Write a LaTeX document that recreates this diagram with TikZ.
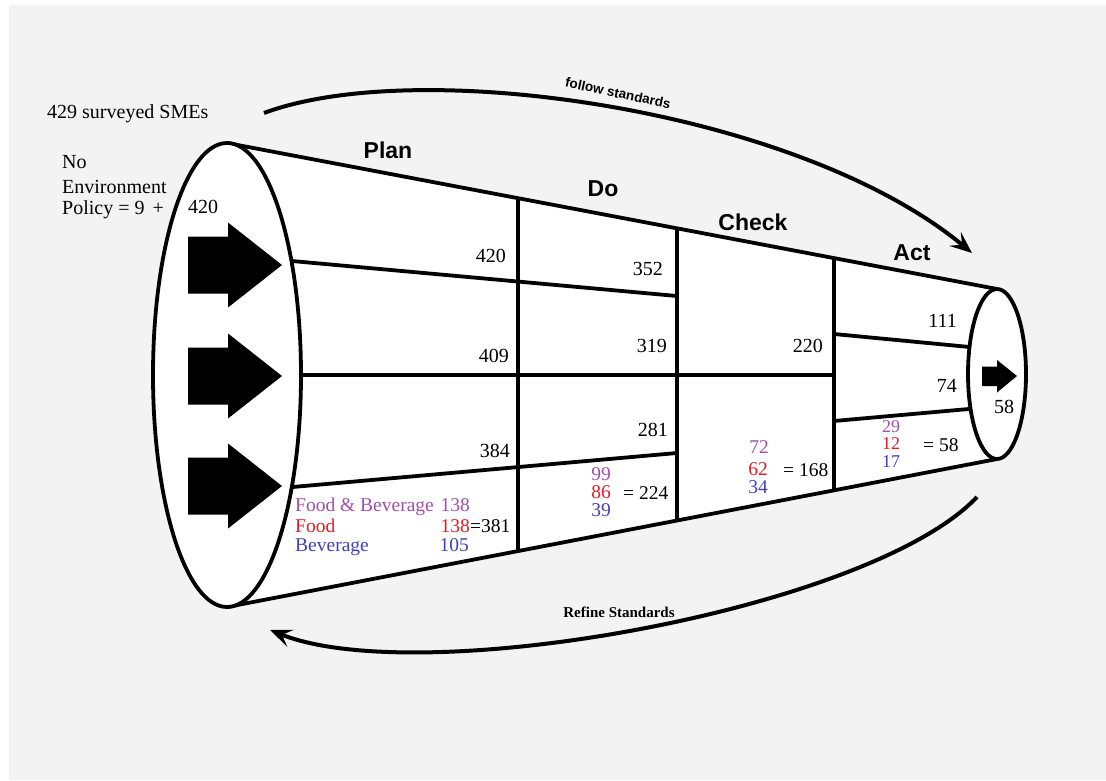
\documentclass[tikz,border=0pt]{standalone}
\usepackage{fontspec}
\setmainfont{Liberation Serif}
\newfontfamily\headfont{Liberation Sans}
\usetikzlibrary{arrows.meta,calc}

\definecolor{bggray}{RGB}{243,243,243}
\definecolor{fbpurple}{RGB}{160,80,175}
\definecolor{fred}{RGB}{225,30,40}
\definecolor{bblue}{RGB}{65,65,185}

\tikzset{
  outline/.style={line width=3.8pt, line join=round},
  num/.style={inner sep=0pt, font=\fontsize{20}{24}\selectfont},
  cellnum/.style={inner sep=0pt, font=\fontsize{19.5}{23}\selectfont},
  stacknum/.style={inner sep=0pt, font=\fontsize{18}{21}\selectfont},
  phase/.style={inner sep=0pt, font=\headfont\bfseries\fontsize{23}{27}\selectfont},
  cyclearrow/.style={line width=4pt, -{Stealth[length=22pt,width=18pt,inset=9pt]}},
  blockarrow/.style={fill=black},
}

\begin{document}
\begin{tikzpicture}[x=1pt,y=-1pt]
\useasboundingbox (0,0) rectangle (1106,780);
\fill[white] (0,0) rectangle (1106,780);
\fill[bggray] (9,5) rectangle (1106,780);

% cone corners
\coordinate (TL) at (227,143);
\coordinate (BL) at (227,607);
\coordinate (TR) at (997,289);
\coordinate (BR) at (997,459);

\fill[white] (TL) -- (TR) -- (BR) -- (BL) -- cycle;

% column dividers between the phases
\foreach \name/\x in {pd/518, dc/677, ca/834} {
  \pgfmathsetmacro\t{(\x-227)/770}
  \coordinate (\name-t) at ($(TL)!\t!(TR)$);
  \coordinate (\name-b) at ($(BL)!\t!(BR)$);
  \draw[outline] (\name-t) -- (\name-b);
}

% row lines
\coordinate (r1a) at (270,259);  \coordinate (r1b) at (677,296);
\coordinate (r2a) at (270,375);  \coordinate (r2b) at (834,375);
\coordinate (r3a) at (270,489);  \coordinate (r3b) at (677,453);
\coordinate (r4a) at (834,334);  \coordinate (r4b) at (980,348);
\coordinate (r5a) at (834,421);  \coordinate (r5b) at (980,408);
\foreach \r in {r1,r2,r3,r4,r5} \draw[outline] (\r a) -- (\r b);

% outer edges of the cone
\draw[outline] (TL) -- (TR);
\draw[outline] (BL) -- (BR);

% open ends
\draw[outline, fill=white] (227,375) ellipse [x radius=74, y radius=232];
\draw[outline, fill=white] (997,374) ellipse [x radius=29, y radius=85];

% entry arrows
\foreach \cy in {265,376,486} {
  \fill[blockarrow] (188,{\cy-28.5}) -- (228,{\cy-28.5}) -- (228,{\cy-42.5})
    -- (282,\cy) -- (228,{\cy+42.5}) -- (228,{\cy+28.5}) -- (188,{\cy+28.5}) -- cycle;
}
% exit arrow
\fill[blockarrow] (982,366.5) -- (997,366.5) -- (997,360) -- (1017,376)
  -- (997,392.5) -- (997,386) -- (982,386) -- cycle;

% left annotations
\node[num, anchor=base west] (total) at (47,118) {429 surveyed SMEs};
\node[num, anchor=base west] (nopol1) at (62,168) {No};
\node[num, anchor=base west] (nopol2) at (62,193) {Environment};
\node[num, anchor=base west] (nopol3) at (62,214) {Policy = 9\hspace{8pt}+};
\node[num, anchor=base west] (inflow) at (188,213) {420};

% phase headings
\node[phase] (plan)  at (388,150) {Plan};
\node[phase] (do)    at (603,189) {Do};
\node[phase] (check) at (753,222) {Check};
\node[phase] (act)   at (912,253) {Act};

% counts per cell
\node[num, anchor=base east] (p1) at (506,262) {420};
\node[num, anchor=base east] (p2) at (509,362) {409};
\node[num, anchor=base east] (p3) at (510,457) {384};
\node[num, anchor=base east] (d1) at (663,275) {352};
\node[num, anchor=base east] (d2) at (667,352) {319};
\node[num, anchor=base east] (d3) at (668,436) {281};
\node[num, anchor=base east] (c1) at (823,352) {220};
\node[num, anchor=base east] (a1) at (957,327) {111};
\node[num, anchor=base east] (a2) at (957,392) {74};
\node[num, anchor=base] (out) at (1004,413) {58};

% Plan: breakdown by sector
\node[cellnum, anchor=base west, text=fbpurple] (pfbl) at (295,511) {Food \& Beverage};
\node[cellnum, anchor=base east, text=fbpurple] (pfbn) at (470,511) {138};
\node[cellnum, anchor=base west, text=fred] (pfl) at (295,532) {Food};
\node[cellnum, anchor=base east, text=fred] (pfn) at (470,532) {138};
\node[cellnum, anchor=base west] (psum) at (470,532) {=381};
\node[cellnum, anchor=base west, text=bblue] (pbl) at (295,551) {Beverage};
\node[cellnum, anchor=base east, text=bblue] (pbn) at (469,551) {105};

% Do: breakdown by sector
\node[cellnum, anchor=base, text=fbpurple] (dfb) at (601,480) {99};
\node[cellnum, anchor=base, text=fred] (df) at (601,498) {86};
\node[cellnum, anchor=base, text=bblue] (db) at (601,516) {39};
\node[cellnum, anchor=base west] (dsum) at (623,499) {= 224};

% Check: breakdown by sector
\node[cellnum, anchor=base, text=fbpurple] (cfb) at (759,453) {72};
\node[cellnum, anchor=base, text=fred] (cf) at (758,475) {62};
\node[cellnum, anchor=base, text=bblue] (cb) at (758,493) {34};
\node[cellnum, anchor=base west] (csum) at (783,476) {= 168};

% Act: breakdown by sector
\node[stacknum, anchor=base, text=fbpurple] (afb) at (891,432) {29};
\node[stacknum, anchor=base, text=fred] (af) at (891,449.5) {12};
\node[stacknum, anchor=base, text=bblue] (ab) at (891,467) {17};
\node[cellnum, anchor=base west] (asum) at (923,451) {= 58};

% cycle arrows
\coordinate (fs-start) at (264,113);
\coordinate (fs-end) at (972,253);
\draw[cyclearrow] (fs-start) .. controls (420,55) and (800,110) .. (fs-end);
\node[inner sep=0pt, rotate=-12, font=\headfont\bfseries\fontsize{13.5}{16}\selectfont]
  (follow) at (618,93) {follow standards};

\coordinate (rs-start) at (977,497);
\coordinate (rs-end) at (270,630);
\draw[cyclearrow] (rs-start) .. controls (870,610) and (420,690) .. (rs-end);
\node[inner sep=0pt, font=\bfseries\fontsize{15}{18}\selectfont]
  (refine) at (619,612) {Refine Standards};
\end{tikzpicture}
\end{document}
